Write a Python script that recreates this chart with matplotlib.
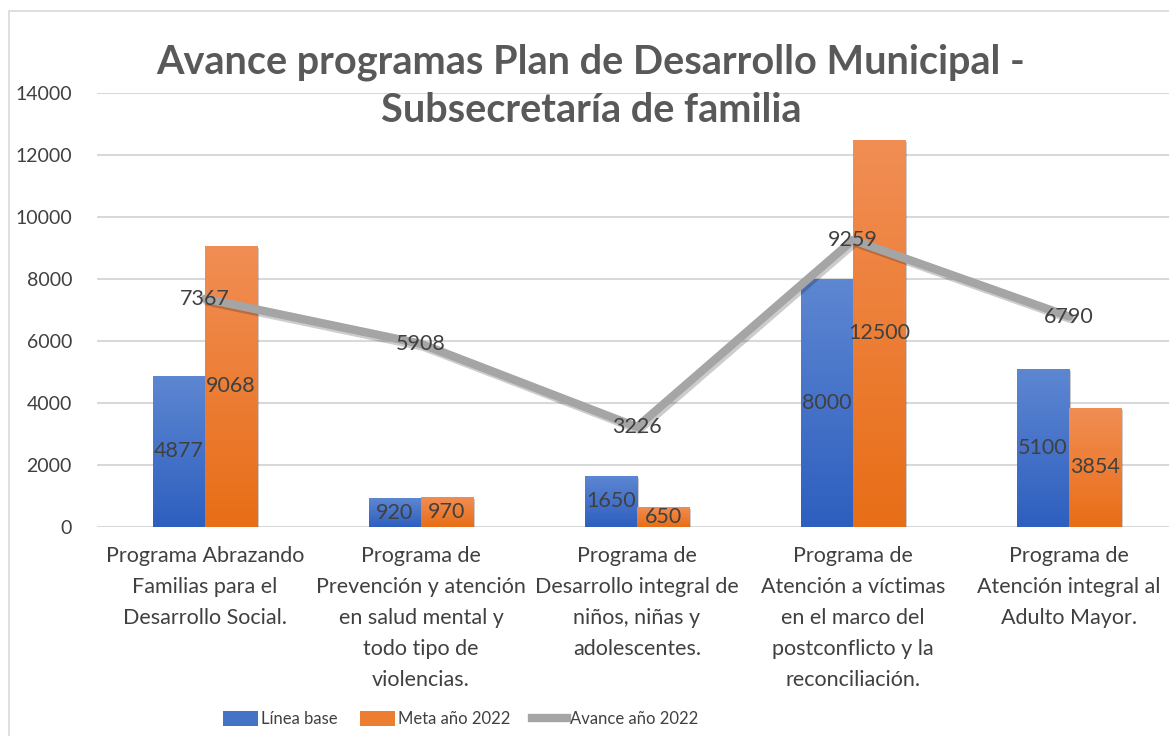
import numpy as np
import matplotlib
matplotlib.use("Agg")
import matplotlib.pyplot as plt
import matplotlib.patheffects as pe
from matplotlib.patches import Rectangle
from matplotlib.colors import LinearSegmentedColormap

categorias = [
    "Programa Abrazando\nFamilias para el\nDesarrollo Social.",
    "Programa de\nPrevención y atención\nen salud mental y\ntodo tipo de\nviolencias.",
    "Programa de\nDesarrollo integral de\nniños, niñas y\nadolescentes.",
    "Programa de\nAtención a víctimas\nen el marco del\npostconflicto y la\nreconciliación.",
    "Programa de\nAtención integral al\nAdulto Mayor.",
]
linea_base = [4877, 920, 1650, 8000, 5100]
meta_2022 = [9068, 970, 650, 12500, 3854]
avance_2022 = [7367, 5908, 3226, 9259, 6790]

plt.rcParams['font.family'] = ['Lato', 'DejaVu Sans']
txt = "#404040"

W, H = 1169, 736
fig = plt.figure(figsize=(W / 100, H / 100), dpi=100)
fig.patches.append(Rectangle((9 / W, -0.1), 1.2, 1 - 11 / H + 0.1, transform=fig.transFigure,
                             fill=False, edgecolor="#D9D9D9", linewidth=1.2))

ax = fig.add_axes([97 / W, 1 - 527 / H, 1080 / W, 434 / H])
x = np.arange(len(categorias))
bw = 0.241

blue_cmap = LinearSegmentedColormap.from_list("b", ["#2E5FBF", "#5E87D2"])
orange_cmap = LinearSegmentedColormap.from_list("o", ["#E86E17", "#F18E55"])


def gradient_bars(bars, cmap):
    grad = np.linspace(0, 1, 256).reshape(-1, 1)
    for b in bars:
        b.set_facecolor("none")
        b.set_edgecolor("none")
        x0, y0 = b.get_x(), b.get_y()
        im = ax.imshow(grad, cmap=cmap, origin="lower", aspect="auto", zorder=2,
                       extent=[x0, x0 + b.get_width(), y0, y0 + b.get_height()])
        im.set_clip_path(b)


shadow = [pe.SimplePatchShadow(offset=(1.5, -1.5), shadow_rgbFace="#000000", alpha=0.2), pe.Normal()]
b1 = ax.bar(x - bw / 2, linea_base, bw, zorder=2, path_effects=shadow)
b2 = ax.bar(x + bw / 2, meta_2022, bw, zorder=2, path_effects=shadow)
gradient_bars(b1, blue_cmap)
gradient_bars(b2, orange_cmap)

ax.plot(x, avance_2022, color="#A5A5A5", linewidth=6, zorder=3, solid_capstyle="round",
        path_effects=[pe.SimpleLineShadow(offset=(1.5, -2), alpha=0.2), pe.Normal()])

fs = 15.5
for xi, v in zip(x, linea_base):
    ax.text(xi - bw / 2, v / 2, str(v), ha="center", va="center", fontsize=fs, color=txt, zorder=5)
for xi, v in zip(x, meta_2022):
    ax.text(xi + bw / 2, v / 2, str(v), ha="center", va="center", fontsize=fs, color=txt, zorder=5)
for xi, v in zip(x, avance_2022):
    ax.text(xi, v, str(v), ha="center", va="center", fontsize=fs, color=txt, zorder=5)

ax.set_xlim(-0.5, 4.5)
ax.set_ylim(0, 14000)
ax.set_yticks(np.arange(0, 14001, 2000))
ax.set_xticks(x)
ax.set_xticklabels(categorias, fontsize=15.5, color=txt, linespacing=1.68, va="top")
ax.tick_params(axis="y", labelsize=14, labelcolor=txt, length=0, pad=18)
ax.tick_params(axis="x", length=0, pad=14)
ax.grid(axis="y", color="#D9D9D9", linewidth=1.5, zorder=0)
ax.set_axisbelow(True)
for s in ax.spines.values():
    s.set_visible(False)

fig.text(591 / W, 1 - 86 / H, "Avance programas Plan de Desarrollo Municipal -\nSubsecretaría de familia",
         ha="center", va="center", fontsize=28.5, fontweight="bold", color="#595959", linespacing=1.35)

handles = [Rectangle((0, 0), 1, 1, facecolor="#4472C4"), Rectangle((0, 0), 1, 1, facecolor="#ED7D31"),
           plt.Line2D([0], [0], color="#A5A5A5", linewidth=6)]
legend_size = 12
lpx = legend_size * 100 / 72
fig.legend(handles, ["Línea base", "Meta año 2022", "Avance año 2022"], loc="center",
           bbox_to_anchor=(461 / W, 1 - 719 / H), ncol=3, frameon=False, fontsize=legend_size,
           labelcolor=txt, handlelength=35 / lpx, handleheight=16 / lpx, handletextpad=3 / lpx,
           columnspacing=22 / lpx)

fig.savefig("out.png", dpi=100)
